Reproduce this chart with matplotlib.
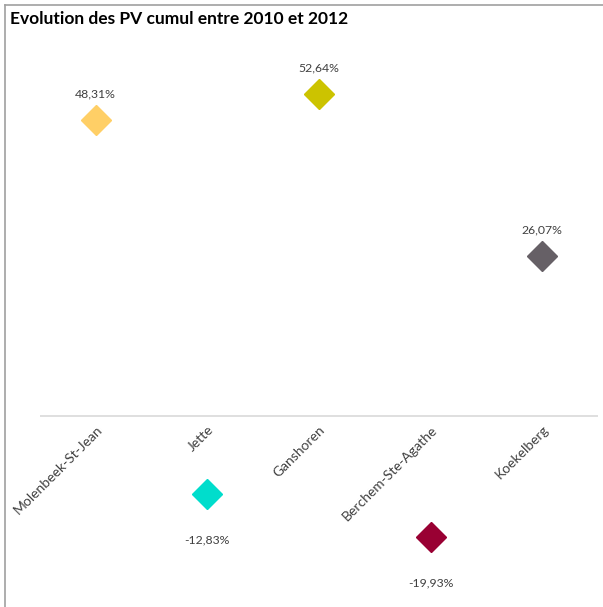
import matplotlib
matplotlib.use('Agg')
import matplotlib.pyplot as plt
from matplotlib.lines import Line2D

# data
communes = ["Molenbeek-St-Jean", "Jette", "Ganshoren", "Berchem-Ste-Agathe", "Koekelberg"]
evolution = [48.31, -12.83, 52.64, -19.93, 26.07]
value_labels = ["48,31%", "-12,83%", "52,64%", "-19,93%", "26,07%"]
colors = ["#FFCF66", "#00DDCC", "#CCC300", "#990033", "#666066"]

plt.rcParams['font.family'] = ['Lato', 'DejaVu Sans']

fig = plt.figure(figsize=(6.03, 6.07), dpi=100)
ax = fig.add_axes([0.0663, 0.0135, 0.9254, 0.9059])

x = range(len(communes))
for i, (v, c, lab) in enumerate(zip(evolution, colors, value_labels)):
    ax.plot(i, v, marker='D', markersize=15.5, color=c, linestyle='none')
    off = 26 if v >= 0 else -46
    ax.annotate(lab, (i, v), xytext=(0, off), textcoords='offset pixels',
                ha='center', va='center', fontsize=8.8, color='#404040')

ax.axhline(0, color='#d9d9d9', linewidth=1.2)
ax.set_xlim(-0.5, len(communes) - 0.5)
ax.set_ylim(-30, 60)
ax.set_xticks(list(x))
ax.set_xticklabels([])
for i, name in enumerate(communes):
    ax.annotate(name, (i, 0), xytext=(0, -8), textcoords='offset pixels',
                rotation=45, ha='right', va='top', rotation_mode='anchor',
                fontsize=10, color='#404040')
ax.tick_params(length=0)
ax.set_yticks([])
for s in ax.spines.values():
    s.set_visible(False)

fig.text(0.016, 0.968, "Evolution des PV cumul entre 2010 et 2012",
         fontsize=12.5, fontweight='bold', ha='left', va='center', color='black')

# chart border (top and left)
fig.add_artist(Line2D([0.008, 1.0], [0.992, 0.992], color='#a0a0a0', linewidth=1.2))
fig.add_artist(Line2D([0.008, 0.008], [0.0, 0.992], color='#a0a0a0', linewidth=1.2))

fig.savefig('out.png', dpi=100)
